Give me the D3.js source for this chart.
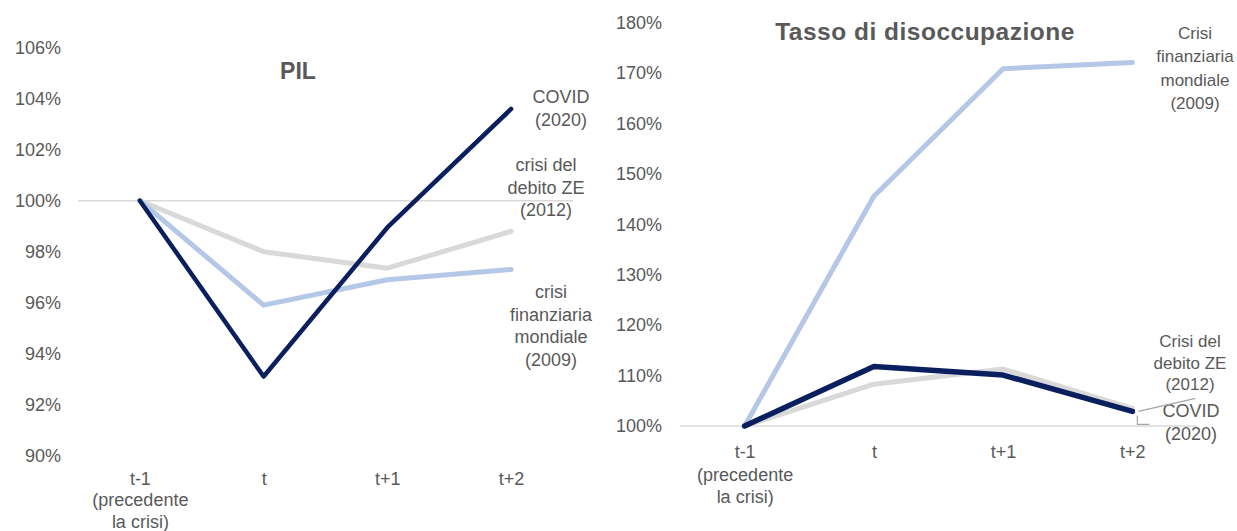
<!DOCTYPE html>
<html>
<head>
<meta charset="utf-8">
<script src="https://cdn.jsdelivr.net/npm/d3@7"></script>
<style>
  html, body { margin: 0; padding: 0; background: #ffffff; }
  svg { display: block; }
  text { font-family: "Liberation Sans", Arial, sans-serif; fill: #595959; }
</style>
</head>
<body>
<svg id="chart" width="1237" height="531"></svg>
<script>
// ---- Data ----
const categories = ["t-1", "t", "t+1", "t+2"];
const categorySubLines = [["(precedente", "la crisi)"], [], [], []];

// PIL (indice, t-1 = 100%)
const pilCovid = [100, 93.1, 98.95, 103.6];
const pilGfc   = [100, 95.9, 96.9, 97.3];
const pilZe    = [100, 98.0, 97.35, 98.8];
const pilTicks = [90, 92, 94, 96, 98, 100, 102, 104, 106];

// Tasso di disoccupazione (indice, t-1 = 100%)
const uneCovid = [100, 111.8, 110.1, 102.9];
const uneGfc   = [100, 145.6, 170.9, 172.1];
const uneZe    = [100, 108.3, 111.3, 103.5];
const uneTicks = [100, 110, 120, 130, 140, 150, 160, 170, 180];

const titles = ["PIL", "Tasso di disoccupazione"];

// ---- Styles ----
const C_NAVY = "#0a1f5e";
const C_LBLUE = "#b4c7e7";
const C_GREY = "#d9d9d9";
const C_TEXT = "#595959";

const svg = d3.select("#chart");
const fmt = d => d + "%";

function drawPanel(cfg) {
  const g = svg.append("g");
  const x = d3.scalePoint().domain(categories).range(cfg.xRange).padding(0.5);
  const y = d3.scaleLinear().domain(cfg.yDomain).range(cfg.yRange);

  // y axis labels
  const ya = g.append("g")
    .attr("transform", `translate(${cfg.yLabelX},0)`)
    .call(d3.axisLeft(y).tickValues(cfg.ticks).tickFormat(fmt).tickSize(0).tickPadding(0));
  ya.select(".domain").remove();
  ya.selectAll("text").attr("font-size", 18).style("font-family", '"Liberation Sans", Arial, sans-serif').attr("fill", C_TEXT);

  // baseline at 100%
  g.append("line")
    .attr("x1", cfg.xRange[0]).attr("x2", cfg.xRange[1])
    .attr("y1", y(100)).attr("y2", y(100))
    .attr("stroke", C_GREY).attr("stroke-width", 1.5);

  // x axis labels
  const xa = g.append("g")
    .attr("transform", `translate(0,${cfg.yRange[0]})`)
    .call(d3.axisBottom(x).tickSize(0).tickPadding(0));
  xa.select(".domain").remove();
  xa.selectAll("text").remove();
  xa.selectAll(".tick").each(function(d, i) {
    const t = d3.select(this).append("text")
      .attr("text-anchor", "middle")
      .attr("font-size", 18)
      .attr("fill", C_TEXT)
      .attr("y", cfg.catDy);
    t.append("tspan").attr("x", 0).attr("dy", 0).text(d);
    categorySubLines[i].forEach(s => t.append("tspan").attr("x", 0).attr("dy", cfg.catLh).text(s));
  });

  const line = d3.line().x((d, i) => x(categories[i])).y(d => y(d));
  cfg.series.forEach(s => {
    g.append("path").datum(s.values)
      .attr("d", line)
      .attr("fill", "none")
      .attr("stroke", s.color)
      .attr("stroke-width", s.width)
      .attr("stroke-linejoin", "round")
      .attr("stroke-linecap", "round");
  });

  // title
  g.append("text")
    .attr("x", cfg.titleX).attr("y", cfg.titleY)
    .attr("text-anchor", "middle")
    .attr("font-size", cfg.titleSize).attr("font-weight", "bold")
    .attr("letter-spacing", cfg.titleLs)
    .attr("fill", C_TEXT)
    .text(cfg.title);

  // annotations
  cfg.notes.forEach(n => {
    const t = g.append("text").attr("text-anchor", "middle").attr("font-size", n.size).attr("fill", C_TEXT);
    n.lines.forEach((s, k) => t.append("tspan").attr("x", n.x).attr("y", n.y + k * n.lh).text(s));
  });
  return {g, x, y};
}

// Left panel: PIL
drawPanel({
  xRange: [78, 573],
  yDomain: [90, 106], yRange: [455.5, 47.8],
  ticks: pilTicks, yLabelX: 61, catDy: 29, catLh: 21.5,
  title: titles[0], titleX: 298, titleY: 79, titleSize: 23, titleLs: 0,
  series: [
    {values: pilZe, color: C_GREY, width: 5},
    {values: pilGfc, color: C_LBLUE, width: 5},
    {values: pilCovid, color: C_NAVY, width: 4.5}
  ],
  notes: [
    {lines: ["COVID", "(2020)"], x: 561, y: 103, lh: 23, size: 18},
    {lines: ["crisi del", "debito ZE", "(2012)"], x: 546, y: 171, lh: 22.5, size: 18},
    {lines: ["crisi", "finanziaria", "mondiale", "(2009)"], x: 551, y: 298, lh: 22.5, size: 18}
  ]
});

// Right panel: Tasso di disoccupazione
const right = drawPanel({
  xRange: [680, 1197],
  yDomain: [100, 180], yRange: [426, 22.8],
  ticks: uneTicks, yLabelX: 662, catDy: 32, catLh: 22.5,
  title: titles[1], titleX: 925, titleY: 40, titleSize: 24.5, titleLs: 0.5,
  series: [
    {values: uneZe, color: C_GREY, width: 5},
    {values: uneGfc, color: C_LBLUE, width: 5},
    {values: uneCovid, color: C_NAVY, width: 5.5}
  ],
  notes: [
    {lines: ["Crisi", "finanziaria", "mondiale", "(2009)"], x: 1195, y: 39, lh: 23.3, size: 17},
    {lines: ["Crisi del", "debito ZE", "(2012)"], x: 1190, y: 347, lh: 21.5, size: 17},
    {lines: ["COVID", "(2020)"], x: 1191, y: 417, lh: 22.5, size: 18}
  ]
});

// leader lines (right panel)
{
  const {g, x, y} = right;
  const xe = x(categories[3]);
  g.append("path")
    .attr("d", `M${xe + 6},${y(uneZe[3]) + 3} L${xe + 63},${y(uneZe[3]) - 10}`)
    .attr("fill", "none").attr("stroke", "#a6a6a6").attr("stroke-width", 1.2);
  g.append("path")
    .attr("d", `M${xe + 5},${y(uneCovid[3]) + 4} L${xe + 5},${y(uneCovid[3]) + 13} L${xe + 17},${y(uneCovid[3]) + 13}`)
    .attr("fill", "none").attr("stroke", "#a6a6a6").attr("stroke-width", 1.2);
}
</script>
</body>
</html>
